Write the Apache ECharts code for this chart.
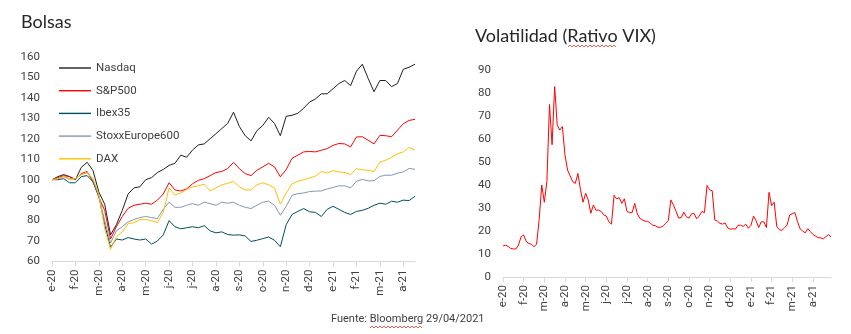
<!DOCTYPE html>
<html>
<head>
<meta charset="utf-8">
<script src="https://cdn.jsdelivr.net/npm/echarts@6/dist/echarts.min.js"></script>
<style>
  html, body { margin: 0; padding: 0; background: #ffffff; }
  #chart { width: 851px; height: 334px; }
</style>
</head>
<body>
<div id="chart"></div>
<script>
// Etiquetas de mes del eje horizontal (ambos paneles)
const mesesBolsas = ['e-20','f-20','m-20','a-20','m-20','j-20','j-20','a-20','s-20','o-20','n-20','d-20','e-21','f-21','m-21','a-21'];
const mesesVix = ['e-20','f-20','m-20','a-20','m-20','j-20','j-20','a-20','s-20','o-20','n-20','d-20','e-21','f-21','m-21','a-21'];
const puntosPorMesBolsas = 4;   // cierres semanales
const puntosPorMesVix = 8;      // cierres cada ~3 sesiones

// Índices bursátiles en base 100 (2-ene-2020)
const nasdaq = [
  100, 101.5, 102.5, 101.5, 100, 106, 108.5, 104.5,
  94, 88, 73, 78, 85, 93, 96, 96.5,
  100, 101, 103.5, 105, 107, 108, 112, 111,
  114.5, 117, 117.5, 120, 122.5, 125, 127.5, 133,
  126, 121.5, 119, 124, 126.5, 130.5, 127.5, 121.5,
  131, 131.5, 132.5, 135, 138, 139.5, 142, 142,
  144.5, 147, 148.5, 146, 153, 156.5, 149.5, 143,
  148.5, 148.5, 145.5, 147, 154, 155, 156.5
];
const sp500 = [
  100, 101, 102, 101.5, 100, 103, 104, 99,
  91.5, 85, 71, 77, 82, 86, 87.5, 88,
  88.5, 88, 90, 93, 98.5, 95, 94.5, 95.5,
  98, 99.7, 100.5, 102, 103.5, 104, 105.4, 108.5,
  105.4, 103, 102, 104.6, 106.3, 108, 106.3, 101.4,
  105, 110.5, 112, 113.6, 113.8, 113.6, 114.4, 115.2,
  116.8, 117.7, 117.5, 116, 120.9, 121, 119.3, 117.5,
  121.7, 121.5, 121, 124.2, 127.4, 129, 129.5
];
const ibex35 = [
  100, 100, 100.5, 98.5, 98.5, 101.5, 102, 99,
  92, 78, 67, 71, 70.5, 71.7, 71, 70.5,
  71, 68.5, 70, 73, 80, 77, 76, 76.5,
  77, 76.5, 77.5, 75, 74, 74.5, 73.2, 72.9,
  73, 72.5, 69.8, 70.4, 71.2, 72, 70.4, 67.2,
  78, 83, 84.5, 85.9, 84.3, 84, 82, 85.5,
  87, 85.5, 84, 83, 84.5, 85, 86, 87.5,
  88.5, 88, 89.5, 89, 90, 89.8, 91.9
];
const stoxx600 = [
  100, 100.5, 101.5, 100.5, 100.5, 102.5, 103.5, 100,
  92, 80, 69, 75, 77, 79.4, 80.5, 81.5,
  82, 81.5, 81, 85.5, 89, 86.5, 86.5, 87.5,
  88.3, 87.5, 89, 88.3, 87.5, 89, 88.5, 89,
  87.5, 86.5, 85.9, 87.5, 89, 89.5, 87.5, 82.6,
  87, 92.4, 93.2, 93.5, 94.2, 94.4, 94.5, 95.5,
  96.2, 97, 97, 96, 99.2, 100.2, 99.4, 99.5,
  101.6, 102.2, 102.2, 103.2, 103.8, 105.5, 105.1
];
const dax = [
  100, 100.5, 101.5, 100, 100.5, 102.5, 103.5, 100.5,
  93, 76, 66, 72, 74.5, 78.5, 79, 80.5,
  80.5, 80, 79, 84, 96, 92.5, 93.5, 95.2,
  96.5, 97, 97.8, 94.5, 96, 97.5, 98.2, 99.2,
  96.5, 95, 95, 97.5, 98.5, 97.5, 96, 88,
  93.5, 98, 99.2, 100, 100.8, 101.8, 104, 103.2,
  104.4, 103.8, 103.5, 102.5, 105.4, 104.8, 104.6, 104,
  108.5, 109.5, 111, 112.6, 113.6, 115.8, 114.4
];

// Índice de volatilidad VIX
const vix = [
  13.5, 13.8, 13.3, 12.4, 12.2, 12.2, 13.9, 17.5,
  18.3, 15.4, 14.6, 14.2, 13.2, 14.2, 25, 40,
  32.5, 41.5, 75, 57.5, 82.8, 66, 63.9, 65.4,
  53, 46.5, 44, 41.4, 40.7, 45, 38, 32.5,
  36.4, 33.5, 27.7, 31.3, 29, 29.1, 28.5, 27,
  26.5, 24, 23, 35.5, 34, 34.5, 32, 34,
  28.5, 28, 28, 32, 27.5, 25.5, 24.8, 24.3,
  24.2, 23.4, 22.5, 22.3, 21.6, 21.6, 22.2, 23.3,
  24.5, 33.5, 31.3, 28.6, 25.6, 25.8, 28.2, 26.2,
  25.6, 27.5, 27.6, 25.3, 26.5, 28.5, 28, 39.8,
  37.9, 37.5, 24.8, 24.3, 23.3, 23, 23.5, 21.3,
  20.8, 21, 20.8, 22.5, 22.5, 22, 23, 21.2,
  22.4, 26.5, 24.5, 21.5, 24, 24, 21.5, 36.8,
  31, 32.5, 22, 20.5, 20.3, 21.4, 22.6, 27,
  27.5, 28, 24.2, 21, 20, 19.2, 21, 19.8,
  18.5, 17.8, 17.1, 17, 16.6, 17.5, 18.4, 17.4
];

const FUENTE = 'Roboto, "Noto Sans", sans-serif';
const FUENTE_TITULO = 'Lato, "Open Sans", sans-serif';
const GRIS_EJE = '#d9d9d9';
const TEXTO = '#404040';

// Una categoría por observación: "mes|n" (solo se rotula la primera de cada mes)
function categorias(meses, porMes, n) {
  const out = [];
  for (let i = 0; i < n; i++) out.push(meses[Math.floor(i / porMes)] + '|' + (i % porMes));
  return out;
}
const catBolsas = categorias(mesesBolsas, puntosPorMesBolsas, nasdaq.length);
const catVix = categorias(mesesVix, puntosPorMesVix, vix.length);

function ejeX(cats, porMes, gridIndex) {
  const esInicioMes = (i) => i % porMes === 0;
  return {
    type: 'category', gridIndex: gridIndex, data: cats, boundaryGap: false,
    axisLine: { lineStyle: { color: GRIS_EJE, width: 1 } },
    axisTick: { show: true, length: 5, interval: esInicioMes, lineStyle: { color: GRIS_EJE } },
    axisLabel: {
      rotate: 90, margin: 8, interval: esInicioMes,
      formatter: (v) => v.split('|')[0],
      color: TEXTO, fontSize: 11.5, fontFamily: FUENTE
    },
    splitLine: { show: false }
  };
}
function ejeY(min, max, paso, gridIndex) {
  return {
    type: 'value', gridIndex: gridIndex, min: min, max: max, interval: paso,
    axisLine: { show: false }, axisTick: { show: false }, splitLine: { show: false },
    axisLabel: { color: TEXTO, fontSize: 11.5, fontFamily: FUENTE, margin: 12 }
  };
}
function linea(nombre, datos, color, ejeIdx) {
  return {
    name: nombre, type: 'line', data: datos,
    xAxisIndex: ejeIdx, yAxisIndex: ejeIdx,
    symbol: 'none', smooth: false,
    lineStyle: { color: color, width: 1 }, itemStyle: { color: color },
    emphasis: { disabled: true }
  };
}
// Subrayado ondulado del corrector ortográfico
function ondulada(x0, x1, y) {
  const pts = [];
  for (let x = x0, k = 0; x <= x1; x += 2, k++) pts.push([x, y + (k % 2 ? -1 : 1)]);
  return pts;
}

const chart = echarts.init(document.getElementById('chart'), null, { renderer: 'canvas' });
chart.setOption({
  animation: false,
  backgroundColor: '#ffffff',
  textStyle: { fontFamily: FUENTE },
  title: [
    { text: 'Bolsas', left: 21, top: 13, padding: 0,
      textStyle: { fontFamily: FUENTE_TITULO, fontSize: 18, fontWeight: 'normal', color: '#262626' } },
    { text: 'Volatilidad (Rativo VIX)', left: 475, top: 27, padding: 0,
      textStyle: { fontFamily: FUENTE_TITULO, fontSize: 18, fontWeight: 'normal', color: '#262626' } }
  ],
  legend: {
    data: ['Nasdaq', 'S&P500', 'Ibex35', 'StoxxEurope600', 'DAX'],
    orient: 'vertical', left: 59, top: 61, padding: 0,
    icon: 'rect', itemWidth: 32, itemHeight: 1.4, itemGap: 8.7,
    selectedMode: false,
    textStyle: { color: TEXTO, fontSize: 11.5, lineHeight: 14, fontFamily: FUENTE }
  },
  grid: [
    { left: 52, top: 57, width: 363, height: 204.5 },
    { left: 503, top: 70, width: 328, height: 207 }
  ],
  xAxis: [ejeX(catBolsas, puntosPorMesBolsas, 0), ejeX(catVix, puntosPorMesVix, 1)],
  yAxis: [ejeY(60, 160, 10, 0), ejeY(0, 90, 10, 1)],
  series: [
    linea('Nasdaq', nasdaq, '#1f1f1f', 0),
    linea('S&P500', sp500, '#ff0000', 0),
    linea('Ibex35', ibex35, '#00505e', 0),
    linea('StoxxEurope600', stoxx600, '#8497b0', 0),
    linea('DAX', dax, '#ffc000', 0),
    linea('VIX', vix, '#ff0000', 1)
  ],
  graphic: [
    { type: 'text', left: 331, top: 314,
      style: { text: 'Fuente: Bloomberg 29/04/2021', fill: TEXTO, font: '11px ' + FUENTE } },
    { type: 'polyline', shape: { points: ondulada(568, 616, 46) }, style: { stroke: '#e03030', lineWidth: 0.8, fill: null } },
    { type: 'polyline', shape: { points: ondulada(370, 423, 327) }, style: { stroke: '#e03030', lineWidth: 0.8, fill: null } }
  ]
});
</script>
</body>
</html>
